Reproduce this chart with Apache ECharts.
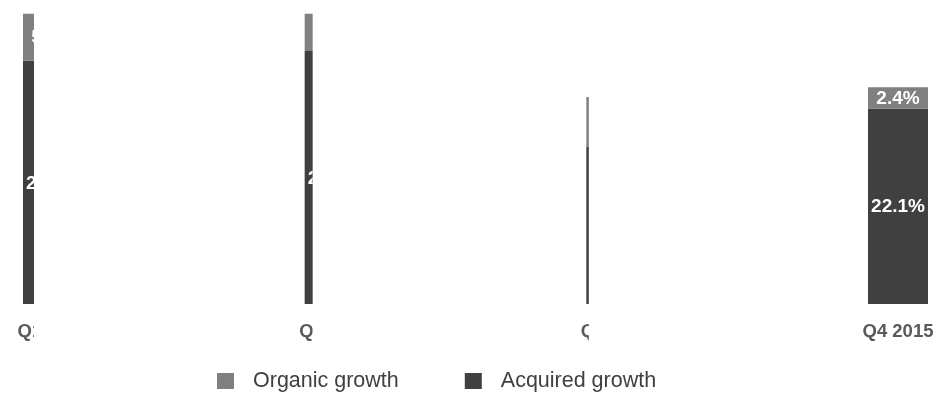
<!DOCTYPE html>
<html>
<head>
<meta charset="utf-8">
<script src="https://cdn.jsdelivr.net/npm/echarts@6/dist/echarts.min.js"></script>
<style>
  html, body { margin: 0; padding: 0; background: #fff; }
  #chart { width: 942px; height: 394px; }
</style>
</head>
<body>
<div id="chart"></div>
<script>
var categories = ['Q1 2015', 'Q2 2015', 'Q3 2015', 'Q4 2015'];
var organicGrowth = [5.3, 4.2, 5.6, 2.4];
var acquiredGrowth = [27.5, 28.6, 17.8, 22.1];

// bars are only partly shown (cut off at the right), px shown from the bar's left edge
var shownWidth = [11, 8, 2.5, 200];
var BAR_WIDTH = 60;
var FONT = '"Liberation Sans", Arial, sans-serif';

function makeRender(color, withCategory) {
	return function (params, api) {
		var idx = api.value(0);
		var base = api.coord([idx, api.value(1)]);
		var top = api.coord([idx, api.value(2)]);
		var left = base[0] - BAR_WIDTH / 2;
		var children = [{
			type: 'rect',
			shape: {x: left, y: top[1], width: BAR_WIDTH, height: base[1] - top[1]},
			style: {fill: color}
		}, {
			type: 'text',
			style: {
				text: api.value(3).toFixed(1) + '%',
				x: base[0], y: (base[1] + top[1]) / 2 + 1,
				align: 'center', verticalAlign: 'middle',
				fill: '#ffffff', font: 'bold 19px ' + FONT
			}
		}];
		if (withCategory) {
			children.push({
				type: 'text',
				style: {
					text: categories[idx],
					x: base[0], y: base[1] + 28,
					align: 'center', verticalAlign: 'middle',
					fill: '#595959', font: 'bold 18.5px ' + FONT
				}
			});
		}
		return {
			type: 'group',
			clipPath: {
				type: 'rect',
				shape: {x: left - 60, y: 0, width: 60 + shownWidth[idx], height: 394}
			},
			children: children
		};
	};
}

var acquiredData = [], organicData = [];
for (var i = 0; i < categories.length; i++) {
	acquiredData.push([i, 0, acquiredGrowth[i], acquiredGrowth[i]]);
	organicData.push([i, acquiredGrowth[i], acquiredGrowth[i] + organicGrowth[i], organicGrowth[i]]);
}

var myChart = echarts.init(document.getElementById('chart'));
myChart.setOption({
	animation: false,
	grid: {left: 53, right: 44, top: 12, bottom: 90},
	xAxis: {type: 'category', data: categories, boundaryGap: false, show: false},
	yAxis: {type: 'value', min: 0, max: 33, show: false},
	legend: {
		data: ['Organic growth', 'Acquired growth'],
		left: 212,
		top: 365,
		icon: 'rect',
		itemWidth: 17,
		itemHeight: 16,
		itemGap: 66,
		textStyle: {fontSize: 21.5, color: '#404040', fontFamily: FONT, padding: [0, 0, 0, 14]}
	},
	series: [{
		name: 'Acquired growth',
		type: 'custom',
		itemStyle: {color: '#404040'},
		encode: {x: 0, y: [1, 2]},
		renderItem: makeRender('#404040', true),
		data: acquiredData
	}, {
		name: 'Organic growth',
		type: 'custom',
		itemStyle: {color: '#808080'},
		encode: {x: 0, y: [1, 2]},
		renderItem: makeRender('#808080', false),
		data: organicData
	}]
});
</script>
</body>
</html>
